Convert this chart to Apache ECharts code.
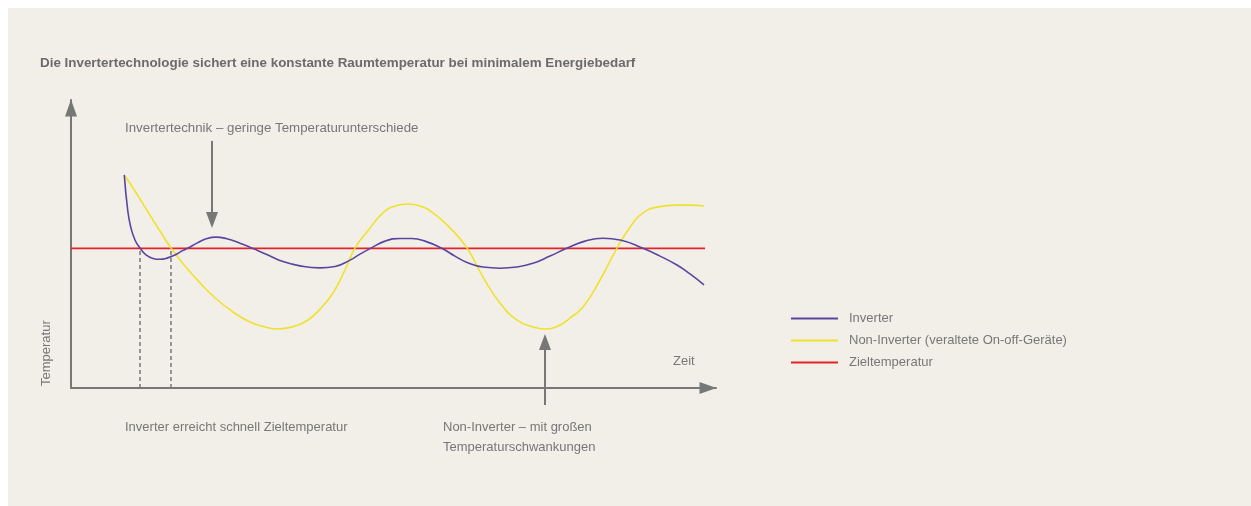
<!DOCTYPE html>
<html><head><meta charset="utf-8">
<script src="https://cdn.jsdelivr.net/npm/echarts@6/dist/echarts.min.js"></script>
<style>
html,body{margin:0;padding:0;background:#ffffff;}
#panel{position:absolute;left:8px;top:8px;width:1243px;height:498px;background:#f2efe9;}
#chart{position:absolute;left:0;top:0;width:1251px;height:506px;}
</style></head>
<body><div id="panel"></div><div id="chart"></div>
<script>
// time (0..100) and temperature (0..100), arbitrary units
const inverterData = [
  [8.26,74.0],[8.79,61.8],[9.26,55.9],[9.92,51.4],[10.70,48.6],[11.63,46.2],[12.71,45.0],[13.80,44.7],
  [14.88,45.1],[16.12,46.2],[17.21,47.6],[18.14,48.6],[19.53,50.3],[21.09,51.9],[22.48,52.4],[24.03,51.9],
  [26.20,50.3],[28.22,48.4],[30.54,46.2],[32.87,43.9],[35.50,42.4],[38.60,41.7],[40.93,42.2],[43.26,44.4],
  [44.81,46.5],[46.36,48.4],[48.68,51.0],[51.01,51.9],[52.87,51.9],[54.88,51.0],[57.47,48.5],[59.53,45.8],
  [61.40,43.6],[63.88,42.0],[66.51,41.6],[69.15,42.0],[71.63,43.3],[74.26,45.8],[76.85,48.5],[79.69,51.0],
  [82.48,52.0],[85.12,51.4],[88.68,48.5],[91.32,45.8],[93.95,42.7],[95.97,39.6],[98.14,35.8]
];
const nonInverterData = [
  [8.37,73.6],[9.92,68.4],[11.94,61.1],[13.80,54.5],[15.50,48.6],[17.67,42.4],[20.0,36.5],[22.33,31.3],
  [25.12,26.4],[27.75,22.9],[30.08,21.2],[32.09,20.5],[34.73,21.5],[36.74,23.6],[38.60,27.4],[40.62,33.0],
  [42.48,41.0],[44.03,48.6],[45.89,54.2],[48.37,60.8],[50.23,63.2],[52.25,63.9],[54.11,63.2],[56.12,60.8],
  [58.76,55.6],[61.40,48.6],[63.88,38.5],[66.51,29.5],[69.15,23.6],[71.63,21.2],[73.49,20.5],[75.50,21.5],
  [77.36,24.3],[79.38,28.1],[82.02,37.5],[84.65,48.6],[87.13,57.3],[88.68,60.8],[90.85,62.8],[93.95,63.5],
  [95.97,63.5],[98.14,63.2]
];
const targetTemp = 48.5;
const targetRange = [0, 98.3];
const reachTimes = [10.70, 15.50];
const seriesNames = ['Inverter', 'Non-Inverter (veraltete On-off-Geräte)', 'Zieltemperatur'];
const titleText = 'Die Invertertechnologie sichert eine konstante Raumtemperatur bei minimalem Energiebedarf';
const annoTop = 'Invertertechnik – geringe Temperaturunterschiede';
const annoBottomLeft = 'Inverter erreicht schnell Zieltemperatur';
const annoBottomRight = ['Non-Inverter – mit großen', 'Temperaturschwankungen'];
const xAxisName = 'Zeit';
const yAxisName = 'Temperatur';
const arrowDown = {x: 21.86, from: 85.8, to: 58.3};
const arrowUp = {x: 73.49, from: -5.9, to: 16.0};

const FONT = '"Liberation Sans", Arial, sans-serif';
const GREY = '#777777';
const chart = echarts.init(document.getElementById('chart'));
const txt = (x, y, t, extra) => Object.assign({type:'text', left:x, top:y, silent:true,
  style:{text:t, fill:GREY, font:'13px ' + FONT}}, extra || {});

chart.setOption({
  backgroundColor: 'transparent',
  animation: false,
  grid: {left: 71, right: 535, top: 100, bottom: 118, containLabel: false},
  xAxis: {type:'value', min:0, max:100, splitLine:{show:false}, axisTick:{show:false}, axisLabel:{show:false},
    axisLine:{show:true, symbol:['none','triangle'], symbolSize:[12,17], symbolOffset:[0,-8], lineStyle:{color:GREY, width:2}}},
  yAxis: {type:'value', min:0, max:100, splitLine:{show:false}, axisTick:{show:false}, axisLabel:{show:false},
    axisLine:{show:true, symbol:['none','triangle'], symbolSize:[12,17], symbolOffset:[0,-8], lineStyle:{color:GREY, width:2}}},
  legend: {
    orient:'vertical', left:786, top:307, itemWidth:47, itemHeight:2, itemGap:9,
    icon:'rect', data: seriesNames,
    textStyle:{color:GREY, fontSize:13, fontFamily:FONT, padding:[0,0,0,6]}
  },
  series: [
    {type:'line', name:'dash1', data:[[reachTimes[0],0],[reachTimes[0],targetTemp]], symbol:'none', silent:true,
      lineStyle:{color:GREY, width:1.5, type:[4,3]}},
    {type:'line', name:'dash2', data:[[reachTimes[1],0],[reachTimes[1],targetTemp]], symbol:'none', silent:true,
      lineStyle:{color:GREY, width:1.5, type:[4,3]}},
    {type:'line', name:seriesNames[2], data:[[targetRange[0],targetTemp],[targetRange[1],targetTemp]], symbol:'none',
      itemStyle:{color:'#e8202a'}, lineStyle:{color:'#e8202a', width:1.8}},
    {type:'line', name:seriesNames[1], data:nonInverterData, smooth:0.5, symbol:'none',
      itemStyle:{color:'#f0e12e'}, lineStyle:{color:'#f0e12e', width:1.6}},
    {type:'line', name:seriesNames[0], data:inverterData, smooth:0.5, symbol:'none',
      itemStyle:{color:'#5a45a0'}, lineStyle:{color:'#5a45a0', width:1.6}},
    {type:'line', name:'arrowDown', clip:false, silent:true,
      data:[{value:[arrowDown.x,arrowDown.from], symbol:'none'},
            {value:[arrowDown.x,arrowDown.to], symbol:'triangle', symbolSize:[12,16], symbolRotate:180}],
      lineStyle:{color:GREY, width:2}, itemStyle:{color:GREY}},
    {type:'line', name:'arrowUp', clip:false, silent:true,
      data:[{value:[arrowUp.x,arrowUp.from], symbol:'none'},
            {value:[arrowUp.x,arrowUp.to], symbol:'triangle', symbolSize:[12,16], symbolRotate:0}],
      lineStyle:{color:GREY, width:2}, itemStyle:{color:GREY}}
  ],
  graphic: [
    txt(40, 57, titleText, {style:{text:titleText, fill:'#6b6b6b', font:'bold 13.4px ' + FONT}}),
    txt(125, 122, annoTop, {style:{text:annoTop, fill:GREY, font:'13.3px ' + FONT}}),
    txt(125, 421, annoBottomLeft),
    txt(443, 421, annoBottomRight[0]),
    txt(443, 441, annoBottomRight[1]),
    txt(673, 355, xAxisName),
    {type:'text', x:40, y:386, rotation:Math.PI/2, silent:true,
      style:{text:yAxisName, fill:GREY, font:'13px ' + FONT}}
  ]
});
</script></body></html>
